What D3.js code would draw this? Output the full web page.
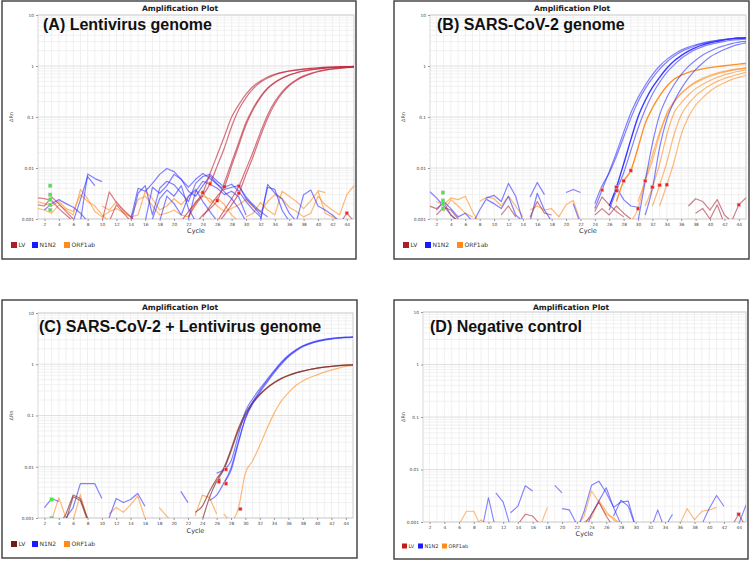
<!DOCTYPE html>
<html>
<head>
<meta charset="utf-8">
<script src="https://cdn.jsdelivr.net/npm/d3@7"></script>
<style>
  body { margin: 0; background: #fff; }
  svg { display: block; font-family: "Liberation Sans", Arial, sans-serif; }
</style>
</head>
<body>
<script>
// tick labels
const cycleTicks = [2,4,6,8,10,12,14,16,18,20,22,24,26,28,30,32,34,36,38,40,42,44];
const rnTicks = [0.001, 0.01, 0.1, 1, 10];
const legendNames = ['LV', 'N1N2', 'ORF1ab'];

// every trace: [first cycle, [dRn per cycle ...]]
// (A) Lentivirus genome
const lvCurvesA = [
  [21, [0.0009,0.0014,0.0021,0.0033,0.0078,0.018,0.042,0.1,0.175,0.28,0.4,0.51,0.61,0.69,0.75,0.8,0.84,0.87,0.9,0.92,0.94,0.95,0.96,0.97,0.98]],
  [22, [0.0011,0.0019,0.0029,0.0049,0.011,0.025,0.065,0.14,0.24,0.36,0.48,0.58,0.67,0.74,0.79,0.83,0.87,0.9,0.92,0.94,0.95,0.96,0.97,0.98]],
  [23, [0.0008,0.0012,0.0016,0.0023,0.0052,0.013,0.032,0.078,0.15,0.25,0.37,0.48,0.58,0.67,0.74,0.8,0.85,0.88,0.91,0.93,0.95,0.96,0.97]],
  [24, [0.0011,0.0018,0.0028,0.0043,0.011,0.028,0.07,0.14,0.24,0.36,0.47,0.57,0.66,0.73,0.79,0.84,0.88,0.91,0.93,0.95,0.96,0.97]],
  [26, [0.0009,0.0015,0.0025,0.0044,0.0095,0.021,0.05,0.11,0.2,0.31,0.43,0.54,0.64,0.72,0.79,0.84,0.88,0.91,0.94,0.95]],
  [26, [0.0008,0.0012,0.0019,0.0032,0.0075,0.017,0.042,0.095,0.18,0.29,0.41,0.52,0.62,0.7,0.77,0.83,0.87,0.9,0.93,0.95]]
];
const lvNoiseA = [
  [1, [0.0026,0.0025,0.0023,0.0016,0.0012,0.0009]],
  [1, [0.0019,0.0018,0.0027,0.002,0.0014,0.001,0.0008]],
  [10, [0.0009,0.0034,0.0021,0.0015,0.0011,0.0008]],
  [11, [0.0009,0.0019,0.0013,0.0009]],
  [43, [0.0008,0.0013,0.0009]]
];
const n1n2NoiseA = [
  [2, [0.0015,0.002,0.0024,0.002,0.0017,0.0013,0.0009]],
  [7, [0.0009,0.0076,0.0062,0.0054]],
  [6, [0.0009,0.0024,0.0068,0.0045]],
  [14, [0.001,0.004,0.0035,0.005,0.0075,0.0098,0.0085,0.006,0.0042,0.006,0.0078,0.0062,0.0048,0.0034,0.0025,0.0016,0.0009]],
  [14, [0.0008,0.0032,0.0045,0.0012,0.004,0.0055,0.0047,0.0032,0.0022,0.005,0.0068,0.0075,0.0055,0.0042,0.0048,0.0035,0.0022,0.0015,0.0011]],
  [16, [0.0009,0.0042,0.0032,0.0045,0.0075,0.006,0.0035,0.0028,0.0045,0.007,0.0048,0.0038,0.0042,0.0045,0.0025,0.0018,0.0012]],
  [17, [0.001,0.0025,0.0037,0.0028,0.0045,0.0016,0.0009]],
  [22, [0.001,0.0035,0.0055,0.0048,0.004,0.003,0.0035,0.0027,0.0012]],
  [18, [0.0009,0.0028,0.002,0.0012,0.0028,0.0038,0.0022,0.0014,0.0009]],
  [29, [0.0045,0.0027,0.0019,0.0014,0.0011]],
  [32, [0.0009,0.0048,0.0032,0.0025,0.0013,0.0009]],
  [32, [0.001,0.0042,0.0038,0.0015,0.0009]],
  [37, [0.0009,0.003,0.0037,0.0018,0.0015,0.0012,0.0009]]
];
const orfNoiseA = [
  [1, [0.0022,0.002,0.0018,0.0022,0.0016,0.0014,0.003,0.0022,0.0018,0.0012,0.0009]],
  [1, [0.0016,0.0015,0.0013,0.0019,0.0015,0.0012,0.0038,0.0025,0.0014,0.0011,0.0014,0.0016,0.0013,0.0011,0.0024,0.0028,0.0018,0.0012,0.0013,0.0015,0.0012,0.0011,0.0022,0.0028,0.0025,0.0018,0.0014,0.0016,0.0019,0.0024,0.0017,0.0014,0.0022,0.003,0.0025,0.0017,0.0014,0.0011,0.0013,0.0028,0.0019,0.0015,0.0012,0.003,0.0045]],
  [10, [0.0018,0.0015,0.0022,0.0014,0.0011,0.0012,0.0035,0.0025,0.0015,0.0018,0.0025,0.0019,0.0028,0.0035,0.0032,0.0021,0.0026,0.0019,0.0012,0.0009]],
  [30, [0.0011,0.0013,0.0021,0.0015,0.0012,0.0035,0.0028,0.0022,0.0016,0.0023,0.0035,0.0013,0.0011,0.0009]],
  [40, [0.0036,0.0033]]
];
const ctA = [[24,0.0033],[25,0.0049],[26,0.0023],[27,0.0043],[29,0.0044],[29,0.0032],[44,0.0013]];
const startA = [[2.8,0.0045],[2.8,0.003],[2.8,0.0024],[2.8,0.0019],[2.8,0.0015]];

// (B) SARS-CoV-2 genome
const n1n2CurvesB = [
  [24, [0.0016,0.0037,0.0085,0.02,0.05,0.12,0.24,0.42,0.68,1.0,1.35,1.7,2.05,2.35,2.6,2.85,3.05,3.2,3.35,3.45,3.55,3.6]],
  [24, [0.002,0.0045,0.008,0.017,0.04,0.095,0.2,0.36,0.58,0.87,1.2,1.55,1.9,2.2,2.5,2.75,2.95,3.15,3.3,3.45,3.55,3.6]],
  [26, [0.0018,0.0042,0.012,0.036,0.1,0.21,0.38,0.6,0.9,1.25,1.6,1.95,2.3,2.6,2.85,3.05,3.25,3.4,3.5,3.55]],
  [26, [0.0015,0.0036,0.008,0.022,0.06,0.14,0.28,0.48,0.75,1.05,1.4,1.75,2.1,2.4,2.65,2.85,3.05,3.2,3.3,3.35]],
  [30, [0.0009,0.0055,0.03,0.11,0.24,0.43,0.68,0.98,1.3,1.65,1.95,2.25,2.5,2.75,2.95,3.05]],
  [31, [0.0012,0.004,0.025,0.09,0.2,0.36,0.58,0.85,1.15,1.5,1.8,2.1,2.4,2.65,2.85]]
];
const orfCurvesB = [
  [27, [0.0022,0.0055,0.0089,0.025,0.075,0.15,0.26,0.4,0.55,0.66,0.75,0.82,0.88,0.93,0.97,1.01,1.05,1.09,1.12]],
  [29, [0.0009,0.0016,0.006,0.018,0.05,0.11,0.19,0.29,0.39,0.49,0.58,0.66,0.73,0.79,0.84,0.88,0.91]],
  [30, [0.0022,0.0056,0.014,0.045,0.12,0.2,0.29,0.38,0.47,0.55,0.63,0.7,0.76,0.82,0.87,0.92]],
  [31, [0.0018,0.0042,0.012,0.045,0.12,0.19,0.27,0.36,0.44,0.52,0.6,0.67,0.73,0.79,0.84]],
  [32, [0.0018,0.0046,0.013,0.045,0.11,0.18,0.26,0.34,0.42,0.5,0.57,0.63,0.69,0.75]],
  [33, [0.0018,0.0047,0.013,0.045,0.1,0.17,0.24,0.32,0.4,0.47,0.54,0.6,0.66]]
];
const n1n2NoiseB = [
  [1, [0.0035,0.0026,0.0018,0.0012,0.0009]],
  [2, [0.0015,0.0022,0.0016,0.0011,0.0013,0.0009]],
  [7, [0.0008,0.0015,0.0026,0.0029,0.0022,0.005,0.0028,0.0009]],
  [9, [0.0024,0.002,0.0016,0.0028,0.0012,0.0009]],
  [15, [0.0027,0.0052,0.003]],
  [15, [0.0009,0.0032,0.0015,0.0009]],
  [20, [0.0033,0.0038,0.0033]],
  [21, [0.002,0.0008]],
  [27, [0.0042,0.0024,0.0018,0.0017]]
];
const lvNoiseB = [
  [1, [0.0018,0.0016,0.0021,0.0012,0.0009]],
  [2, [0.0012,0.0017,0.0015,0.001]],
  [11, [0.0012,0.0018,0.0011]],
  [15, [0.0011,0.0022,0.0013,0.0012]],
  [24, [0.0014,0.0027,0.0019,0.0014,0.0011]],
  [24, [0.0012,0.0016,0.0012,0.0018,0.0013,0.001]],
  [37, [0.0018,0.0025,0.0022,0.0015,0.0024,0.0012,0.0009]],
  [38, [0.0013,0.0016,0.001,0.0019,0.0008]],
  [43, [0.0009,0.0019,0.0026]]
];
const orfNoiseB = [
  [2, [0.0022,0.0019,0.0026,0.0024,0.0028,0.0014,0.0008]],
  [3, [0.0014,0.0024,0.0018,0.0013,0.0011]],
  [8, [0.0022,0.0027,0.0025,0.0018,0.0028,0.0018,0.0011]],
  [15, [0.0015,0.0018,0.0015,0.0016,0.0011,0.0019,0.0023,0.0009]]
];
const ctB = [[25,0.0037],[27,0.0042],[27,0.0036],[28,0.0056],[29,0.0089],[30,0.0016],[31,0.0056],[32,0.0042],[33,0.0046],[34,0.0047],[44,0.0019]];
const startB = [[2.9,0.0033],[2.9,0.0023],[2.9,0.002],[2.9,0.0016]];

// (C) SARS-CoV-2 + Lentivirus genome
const n1n2CurvesC = [
  [26, [0.0075,0.0088,0.013,0.04,0.12,0.21,0.33,0.5,0.75,1.1,1.5,1.9,2.3,2.6,2.85,3.05,3.2,3.3,3.38,3.42]],
  [25, [0.0022,0.0028,0.0048,0.0085,0.028,0.09,0.18,0.3,0.47,0.72,1.05,1.45,1.85,2.25,2.55,2.8,3.0,3.15,3.27,3.35,3.4]],
  [27, [0.0047,0.0095,0.03,0.085,0.17,0.28,0.44,0.68,1.0,1.4,1.8,2.2,2.5,2.75,2.95,3.1,3.22,3.3,3.35]]
];
const lvCurvesC = [
  [23, [0.0013,0.0017,0.0033,0.0058,0.0095,0.022,0.055,0.11,0.18,0.26,0.35,0.44,0.53,0.61,0.68,0.74,0.79,0.84,0.88,0.91,0.94,0.96,0.97]],
  [24, [0.0009,0.0025,0.0052,0.0088,0.02,0.05,0.1,0.17,0.25,0.34,0.43,0.52,0.6,0.67,0.73,0.79,0.84,0.88,0.91,0.94,0.96,0.97]]
];
const orfCurvesC = [
  [27, [0.0012,0.0009,0.0015,0.0075,0.013,0.026,0.055,0.11,0.19,0.28,0.38,0.47,0.55,0.62,0.7,0.77,0.84,0.91,0.96]]
];
const n1n2NoiseC = [
  [2, [0.0016,0.0024,0.0021]],
  [5, [0.001,0.0016,0.0047,0.0047,0.0047,0.0024]],
  [11, [0.001,0.0024,0.002,0.0023,0.003,0.0017]],
  [21, [0.0033,0.002]]
];
const lvNoiseC = [
  [4, [0.0007,0.0012,0.0028,0.0024,0.001,0.0007]],
  [4, [0.0007,0.0009,0.0026,0.0022,0.0009]]
];
const orfNoiseC = [
  [3, [0.0009,0.0025,0.001,0.0009,0.0029,0.0009]],
  [11, [0.0012,0.0016,0.0013,0.0018,0.0027,0.001]],
  [18, [0.0016,0.0011,0.0008]],
  [23, [0.0011,0.0028,0.0025,0.0012]]
];
const ctC = [[26.3,0.0055],[26.3,0.0051],[27.3,0.0089],[27.3,0.0047],[29.3,0.0015]];
const startC = [[3,0.0023],[3,0.001]];

// (D) Negative control
const n1n2NoiseD = [
  [9, [0.0006,0.0029,0.0007]],
  [11, [0.0036,0.0024,0.0008]],
  [13, [0.0015,0.002,0.0049,0.0039]],
  [19, [0.005,0.0036]],
  [20, [0.0018,0.0017,0.0009]],
  [22, [0.0007,0.0016,0.005,0.006,0.0036,0.0019,0.0024,0.0025,0.0008]],
  [23, [0.0006,0.0014,0.0025,0.0045,0.0019,0.0009]],
  [27, [0.0013,0.0026,0.002,0.0008]],
  [32, [0.0007,0.0017,0.0007]],
  [34, [0.0008,0.0014]],
  [39, [0.0009,0.0018,0.0032,0.002]],
  [43, [0.0009,0.0009,0.0021]]
];
const orfNoiseD = [
  [6, [0.0009,0.0016,0.0016,0.0008]],
  [8, [0.0008,0.0011,0.0008]],
  [17, [0.0008,0.0019]],
  [22, [0.0008,0.0013,0.0039,0.0024,0.0014,0.0012,0.0009]],
  [23, [0.001,0.0012,0.0026,0.0016,0.0011,0.0009]],
  [36, [0.0009,0.0018,0.0011,0.0016,0.0017,0.0019]]
];
const lvNoiseD = [
  [14, [0.0009,0.0014,0.0013,0.0009]],
  [23, [0.0009,0.0014,0.0024,0.0013,0.0008]],
  [43, [0.0008,0.0014,0.0008]]
];
const ctD = [[44,0.0014]];
const startD = [];

const BLUE = '#2f2fff', ORANGE = '#ff8a1c';
const SMALL_FONT = '"DejaVu Sans", Verdana, sans-serif';

const panels = [
  { frame: [2, 1, 356, 259], plot: [38, 15, 354, 219], label: '(A) Lentivirus genome', labelXY: [43, 30],
    header: [180, 10.5], cycleY: 233, legendY: 245, legendX: [11, 32, 64], box: 6, legendFont: 6,
    lvColor: '#c0283c', legendColors: ['#a81e2a', '#1a1aff', '#ff8c1a'],
    curves: [[lvCurvesA, 'lv']], noise: [[orfNoiseA, 'orf'], [n1n2NoiseA, 'n1n2'], [lvNoiseA, 'lv']],
    ct: ctA, start: startA },
  { frame: [394, 1, 749, 259], plot: [430, 15, 746, 219], label: '(B) SARS-CoV-2 genome', labelXY: [437, 30],
    header: [572, 10.5], cycleY: 233, legendY: 245, legendX: [403, 425, 457], box: 6, legendFont: 6,
    lvColor: '#a8303c', legendColors: ['#a81e2a', '#1a1aff', '#ff8c1a'],
    curves: [[orfCurvesB, 'orf'], [n1n2CurvesB, 'n1n2']], noise: [[orfNoiseB, 'orf'], [n1n2NoiseB, 'n1n2'], [lvNoiseB, 'lv']],
    bright: { n1n2: 2, orf: 0 }, ct: ctB, start: startB },
  { frame: [2, 300, 357, 558], plot: [38, 313, 353, 518], label: '(C) SARS-CoV-2 + Lentivirus genome', labelXY: [39, 332],
    header: [180, 309.5], cycleY: 532.5, legendY: 544, legendX: [11, 32, 64], box: 6, legendFont: 6,
    lvColor: '#7a1c1c', legendColors: ['#6e1c1c', '#1a1aff', '#ff8c1a'],
    curves: [[orfCurvesC, 'orf'], [lvCurvesC, 'lv'], [n1n2CurvesC, 'n1n2']], noise: [[orfNoiseC, 'orf'], [n1n2NoiseC, 'n1n2'], [lvNoiseC, 'lv']],
    ct: ctC, start: startC },
  { frame: [394, 300, 748, 559], plot: [423, 312, 746, 522], label: '(D) Negative control', labelXY: [430, 332],
    header: [571, 309.5], cycleY: 535.5, legendY: 546, legendX: [402, 418, 442], box: 5, legendFont: 5,
    lvColor: '#b01c2c', legendColors: ['#c01c1c', '#1a1aff', '#ff8c1a'],
    curves: [], noise: [[orfNoiseD, 'orf'], [n1n2NoiseD, 'n1n2'], [lvNoiseD, 'lv']],
    ct: ctD, start: startD }
];

const svg = d3.select('body').append('svg').attr('width', 752).attr('height', 562);

function toPoints(trace) {
  return trace[1].map((v, i) => [trace[0] + i, v]);
}

panels.forEach((p, pi) => {
  const [px0, py0, px1, py1] = p.plot;
  const x = d3.scaleLinear().domain([1.1, 45]).range([px0, px1]);
  const y = d3.scaleLog().domain([0.001, 10]).range([py1, py0]);
  const g = svg.append('g');

  g.append('rect')
    .attr('x', p.frame[0]).attr('y', p.frame[1])
    .attr('width', p.frame[2] - p.frame[0]).attr('height', p.frame[3] - p.frame[1])
    .attr('fill', '#fff').attr('stroke', '#3c3c3c').attr('stroke-width', 1.4);

  // grid
  const grid = g.append('g');
  for (let c = 2; c <= 45; c++) {
    grid.append('line').attr('x1', x(c)).attr('x2', x(c)).attr('y1', py0).attr('y2', py1)
      .attr('stroke', '#ececec').attr('stroke-width', 0.8);
  }
  [0.001, 0.01, 0.1, 1].forEach(d => {
    for (let k = 2; k <= 9; k++) {
      grid.append('line').attr('x1', px0).attr('x2', px1).attr('y1', y(d * k)).attr('y2', y(d * k))
        .attr('stroke', '#eeeeee').attr('stroke-width', 0.8);
    }
  });
  rnTicks.forEach(d => {
    grid.append('line').attr('x1', px0).attr('x2', px1).attr('y1', y(d)).attr('y2', y(d))
      .attr('stroke', '#dcdcdc').attr('stroke-width', 0.9);
  });
  g.append('rect').attr('x', px0).attr('y', py0).attr('width', px1 - px0).attr('height', py1 - py0)
    .attr('fill', 'none').attr('stroke', '#cfcfcf').attr('stroke-width', 0.8);

  const clipId = 'clip' + pi;
  svg.append('clipPath').attr('id', clipId).append('rect')
    .attr('x', px0).attr('y', py0).attr('width', px1 - px0).attr('height', py1 - py0);
  const data = g.append('g').attr('clip-path', `url(#${clipId})`);

  const colorOf = kind => kind === 'lv' ? p.lvColor : kind === 'n1n2' ? BLUE : ORANGE;
  const lineGen = d3.line().x(d => x(d[0])).y(d => y(d[1]));
  const smoothGen = d3.line().x(d => x(d[0])).y(d => y(d[1])).curve(d3.curveMonotoneX);

  p.noise.forEach(([traces, kind]) => {
    data.selectAll(null).data(traces).enter().append('path')
      .attr('d', t => lineGen(toPoints(t)))
      .attr('fill', 'none').attr('stroke', colorOf(kind))
      .attr('stroke-width', pi === 3 ? 1.1 : 1.2).attr('stroke-opacity', 0.6)
      .attr('stroke-linejoin', 'round');
  });

  p.curves.forEach(([traces, kind]) => {
    data.selectAll(null).data(traces).enter().append('path')
      .attr('d', t => smoothGen(toPoints(t)))
      .attr('fill', 'none').attr('stroke', colorOf(kind))
      .attr('stroke-width', (t, i) => p.bright && p.bright[kind] === i ? 1.4 : 1.2)
      .attr('stroke-opacity', (t, i) => p.bright && p.bright[kind] === i ? 0.95 : (kind === 'lv' ? 0.65 : 0.6));
  });

  data.selectAll(null).data(p.start).enter().append('rect')
    .attr('x', d => x(d[0]) - 1.7).attr('y', d => y(d[1]) - 1.7).attr('width', 3.4).attr('height', 3.4)
    .attr('fill', '#3bef3b').attr('stroke', '#bbbbbb').attr('stroke-width', 0.5);
  data.selectAll(null).data(p.ct).enter().append('rect')
    .attr('x', d => x(d[0]) - 1.7).attr('y', d => y(d[1]) - 1.7).attr('width', 3.4).attr('height', 3.4)
    .attr('fill', '#ff1c1c').attr('stroke', '#c8c8c8').attr('stroke-width', 0.5);

  // axes
  const yAxis = g.append('g').attr('transform', `translate(${px0},0)`)
    .call(d3.axisLeft(y).tickValues(rnTicks).tickFormat(d => String(d)).tickSize(2).tickPadding(2));
  const xAxis = g.append('g').attr('transform', `translate(0,${py1})`)
    .call(d3.axisBottom(x).tickValues(cycleTicks).tickFormat(d => String(d)).tickSize(2).tickPadding(2));
  [yAxis, xAxis].forEach(a => {
    a.select('.domain').remove();
    a.selectAll('line').attr('stroke', '#999');
    a.selectAll('text').attr('font-size', 4.3).attr('fill', '#444').attr('font-family', SMALL_FONT);
  });

  g.append('text').attr('transform', `translate(${p.frame[0] + 11},${(py0 + py1) / 2}) rotate(-90)`)
    .attr('text-anchor', 'middle').attr('font-size', 5).attr('fill', '#555')
    .attr('font-family', SMALL_FONT).text('ΔRn');
  g.append('text').attr('x', (px0 + px1) / 2).attr('y', p.cycleY)
    .attr('text-anchor', 'middle').attr('font-size', 6.5).attr('fill', '#333')
    .attr('font-family', SMALL_FONT).text('Cycle');

  g.append('text').attr('x', p.header[0]).attr('y', p.header[1])
    .attr('text-anchor', 'middle').attr('font-size', 7.6).attr('font-weight', 'bold').attr('fill', '#222')
    .attr('font-family', SMALL_FONT).text('Amplification Plot');
  g.append('text').attr('x', p.labelXY[0]).attr('y', p.labelXY[1])
    .attr('font-size', 16).attr('font-weight', 'bold').attr('fill', '#111').text(p.label);

  // legend
  legendNames.forEach((name, i) => {
    g.append('rect').attr('x', p.legendX[i]).attr('y', p.legendY - p.box / 2)
      .attr('width', p.box).attr('height', p.box).attr('fill', p.legendColors[i]);
    g.append('text').attr('x', p.legendX[i] + p.box + 1.5).attr('y', p.legendY + p.legendFont * 0.36)
      .attr('font-size', p.legendFont).attr('fill', '#333')
      .attr('font-family', SMALL_FONT).text(name);
  });
});
</script>
</body>
</html>
